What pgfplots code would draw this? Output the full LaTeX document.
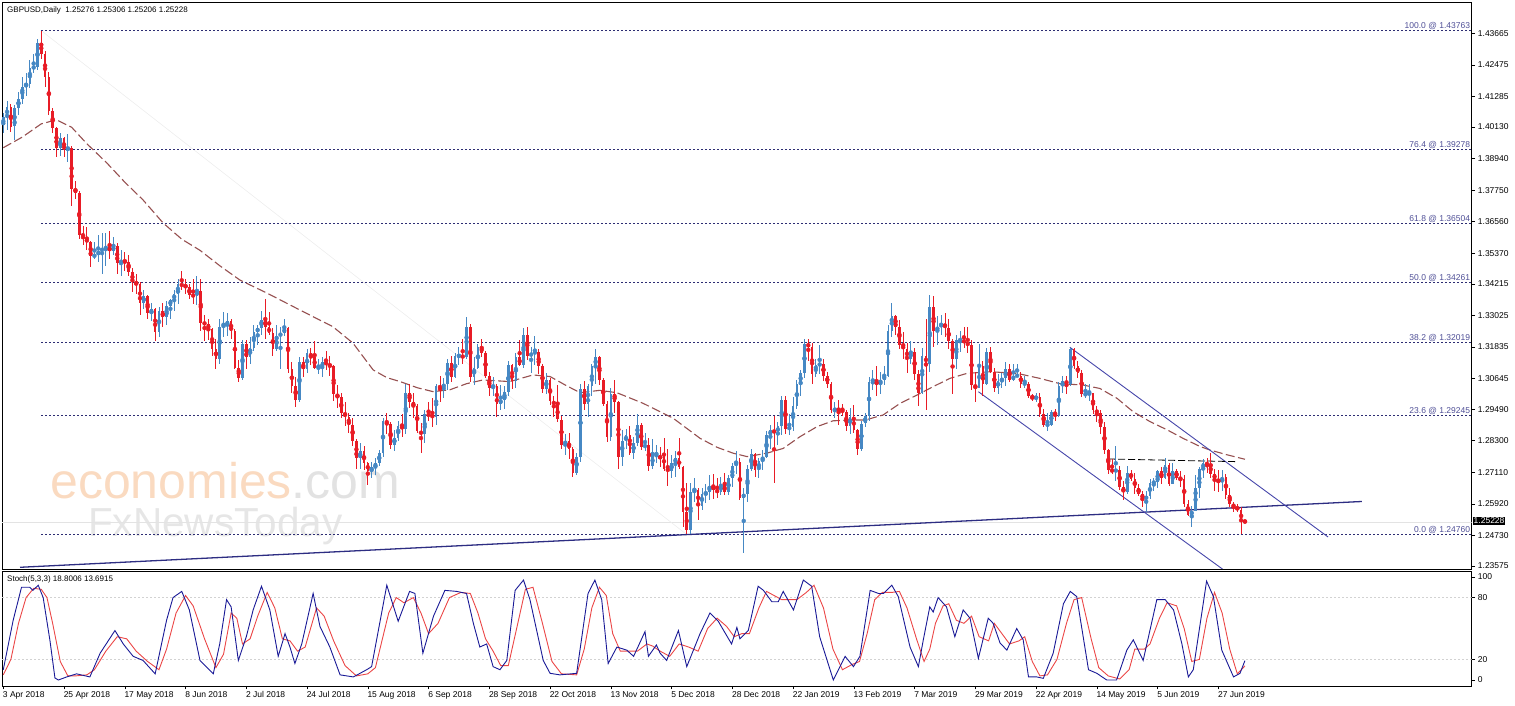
\documentclass[border=0pt]{standalone}
\usepackage{fontspec}
\setmainfont{Liberation Sans}
\usepackage{pgfplots}
\usepackage{pgfplotstable}
\pgfplotsset{compat=1.18}
\definecolor{upc}{RGB}{70,136,196}
\definecolor{dnc}{RGB}{232,28,38}
\definecolor{fibl}{RGB}{45,45,115}
\definecolor{fibt}{RGB}{78,78,150}
\definecolor{mac}{RGB}{150,80,80}
\definecolor{tline}{RGB}{45,45,130}
\definecolor{chan}{RGB}{70,70,170}
\definecolor{stk}{RGB}{25,25,150}
\definecolor{std}{RGB}{235,70,70}
\definecolor{wmo}{RGB}{250,218,192}
\definecolor{wmg}{RGB}{226,226,226}
\definecolor{wmf}{RGB}{230,230,230}
\pgfplotstableread{
i o h l c
0 1.4020 1.4065 1.3990 1.4050
1 1.4050 1.4110 1.4000 1.4090
2 1.4090 1.4100 1.3995 1.4015
3 1.4015 1.4095 1.3965 1.4085
4 1.4085 1.4145 1.4060 1.4120
5 1.4120 1.4200 1.4100 1.4165
6 1.4165 1.4215 1.4130 1.4175
7 1.4175 1.4265 1.4160 1.4235
8 1.4235 1.4290 1.4215 1.4240
9 1.4240 1.4345 1.4230 1.4330
10 1.4330 1.4377 1.4270 1.4290
11 1.4290 1.4300 1.4165 1.4200
12 1.4200 1.4220 1.4060 1.4075
13 1.4075 1.4085 1.3990 1.4010
14 1.4010 1.4015 1.3900 1.3935
15 1.3935 1.3990 1.3905 1.3970
16 1.3970 1.3975 1.3900 1.3925
17 1.3925 1.3985 1.3880 1.3935
18 1.3935 1.3940 1.3715 1.3780
19 1.3780 1.3810 1.3740 1.3765
20 1.3765 1.3770 1.3590 1.3605
21 1.3605 1.3640 1.3570 1.3590
22 1.3590 1.3635 1.3550 1.3580
23 1.3580 1.3585 1.3485 1.3525
24 1.3525 1.3580 1.3515 1.3530
25 1.3530 1.3605 1.3505 1.3545
26 1.3545 1.3615 1.3460 1.3555
27 1.3555 1.3615 1.3490 1.3560
28 1.3560 1.3620 1.3515 1.3545
29 1.3545 1.3600 1.3530 1.3565
30 1.3565 1.3575 1.3460 1.3500
31 1.3500 1.3550 1.3450 1.3510
32 1.3510 1.3540 1.3470 1.3505
33 1.3505 1.3530 1.3450 1.3465
34 1.3465 1.3480 1.3390 1.3430
35 1.3430 1.3460 1.3385 1.3420
36 1.3420 1.3430 1.3305 1.3350
37 1.3350 1.3400 1.3325 1.3375
38 1.3375 1.3380 1.3290 1.3310
39 1.3310 1.3350 1.3280 1.3325
40 1.3325 1.3330 1.3205 1.3240
41 1.3240 1.3335 1.3220 1.3320
42 1.3320 1.3350 1.3260 1.3295
43 1.3295 1.3355 1.3265 1.3340
44 1.3340 1.3365 1.3290 1.3360
45 1.3360 1.3400 1.3320 1.3385
46 1.3385 1.3440 1.3345 1.3420
47 1.3420 1.3470 1.3400 1.3415
48 1.3415 1.3440 1.3385 1.3410
49 1.3410 1.3420 1.3365 1.3380
50 1.3380 1.3440 1.3345 1.3375
51 1.3375 1.3450 1.3340 1.3395
52 1.3395 1.3440 1.3245 1.3275
53 1.3275 1.3305 1.3205 1.3270
54 1.3270 1.3290 1.3210 1.3250
55 1.3250 1.3255 1.3150 1.3175
56 1.3175 1.3215 1.3100 1.3140
57 1.3140 1.3290 1.3120 1.3260
58 1.3260 1.3315 1.3220 1.3265
59 1.3265 1.3310 1.3225 1.3280
60 1.3280 1.3290 1.3215 1.3245
61 1.3245 1.3250 1.3100 1.3105
62 1.3105 1.3135 1.3050 1.3065
63 1.3065 1.3210 1.3060 1.3195
64 1.3195 1.3210 1.3100 1.3145
65 1.3145 1.3220 1.3120 1.3180
66 1.3180 1.3265 1.3170 1.3240
67 1.3240 1.3265 1.3190 1.3255
68 1.3255 1.3320 1.3230 1.3285
69 1.3285 1.3363 1.3215 1.3260
70 1.3260 1.3315 1.3230 1.3235
71 1.3235 1.3255 1.3150 1.3175
72 1.3175 1.3265 1.3170 1.3225
73 1.3225 1.3260 1.3100 1.3235
74 1.3235 1.3290 1.3225 1.3255
75 1.3255 1.3260 1.3085 1.3100
76 1.3100 1.3125 1.3010 1.3035
77 1.3035 1.3070 1.2957 1.2985
78 1.2985 1.3145 1.2975 1.3125
79 1.3125 1.3145 1.3070 1.3100
80 1.3100 1.3175 1.3085 1.3160
81 1.3160 1.3180 1.3115 1.3145
82 1.3145 1.3205 1.3100 1.3105
83 1.3105 1.3140 1.3080 1.3105
84 1.3105 1.3145 1.3070 1.3125
85 1.3125 1.3170 1.3095 1.3120
86 1.3120 1.3150 1.3075 1.3110
87 1.3110 1.3115 1.2980 1.3005
88 1.3005 1.3040 1.2955 1.2995
89 1.2995 1.3010 1.2915 1.2935
90 1.2935 1.2975 1.2885 1.2920
91 1.2920 1.2935 1.2860 1.2890
92 1.2890 1.2915 1.2810 1.2830
93 1.2830 1.2835 1.2725 1.2765
94 1.2765 1.2820 1.2725 1.2790
95 1.2790 1.2810 1.2720 1.2745
96 1.2745 1.2750 1.2662 1.2715
97 1.2715 1.2750 1.2690 1.2730
98 1.2730 1.2765 1.2700 1.2745
99 1.2745 1.2795 1.2735 1.2785
100 1.2785 1.2915 1.2770 1.2905
101 1.2905 1.2935 1.2855 1.2895
102 1.2895 1.2900 1.2800 1.2815
103 1.2815 1.2870 1.2790 1.2840
104 1.2840 1.2905 1.2830 1.2885
105 1.2885 1.2930 1.2845 1.2875
106 1.2875 1.3045 1.2855 1.3010
107 1.3010 1.3045 1.2955 1.2975
108 1.2975 1.3010 1.2915 1.2960
109 1.2960 1.2970 1.2860 1.2865
110 1.2865 1.2895 1.2785 1.2855
111 1.2855 1.2945 1.2820 1.2930
112 1.2930 1.2975 1.2905 1.2925
113 1.2925 1.2990 1.2880 1.2920
114 1.2920 1.3045 1.2890 1.3035
115 1.3035 1.3075 1.2975 1.3030
116 1.3030 1.3065 1.2990 1.3045
117 1.3045 1.3140 1.3020 1.3125
118 1.3125 1.3150 1.3050 1.3070
119 1.3070 1.3160 1.3065 1.3150
120 1.3150 1.3185 1.3115 1.3150
121 1.3150 1.3215 1.3120 1.3145
122 1.3145 1.3298 1.3140 1.3260
123 1.3260 1.3270 1.3050 1.3070
124 1.3070 1.3145 1.3040 1.3105
125 1.3105 1.3195 1.3100 1.3185
126 1.3185 1.3215 1.3145 1.3160
127 1.3160 1.3170 1.3065 1.3075
128 1.3075 1.3090 1.3000 1.3030
129 1.3030 1.3070 1.3000 1.3035
130 1.3035 1.3045 1.2920 1.2970
131 1.2970 1.3040 1.2945 1.2985
132 1.2985 1.3035 1.2950 1.3015
133 1.3015 1.3130 1.3000 1.3115
134 1.3115 1.3120 1.3025 1.3055
135 1.3055 1.3160 1.3030 1.3145
136 1.3145 1.3210 1.3110 1.3115
137 1.3115 1.3255 1.3105 1.3230
138 1.3230 1.3260 1.3135 1.3150
139 1.3150 1.3185 1.3085 1.3160
140 1.3160 1.3225 1.3115 1.3165
141 1.3165 1.3175 1.3080 1.3110
142 1.3110 1.3120 1.3010 1.3025
143 1.3025 1.3085 1.3005 1.3060
144 1.3060 1.3065 1.2965 1.2980
145 1.2980 1.3000 1.2920 1.2965
146 1.2965 1.3040 1.2900 1.2910
147 1.2910 1.2925 1.2800 1.2815
148 1.2815 1.2855 1.2775 1.2830
149 1.2830 1.2860 1.2760 1.2800
150 1.2800 1.2805 1.2695 1.2710
151 1.2710 1.2785 1.2700 1.2770
152 1.2770 1.3045 1.2750 1.3025
153 1.3025 1.3055 1.2945 1.2970
154 1.2970 1.3045 1.2920 1.3035
155 1.3035 1.3120 1.3000 1.3110
156 1.3110 1.3175 1.3045 1.3145
157 1.3145 1.3150 1.3040 1.3060
158 1.3060 1.3065 1.2960 1.2970
159 1.2970 1.2980 1.2825 1.2845
160 1.2845 1.3030 1.2830 1.3005
161 1.3005 1.3060 1.2935 1.2975
162 1.2975 1.2980 1.2725 1.2770
163 1.2770 1.2870 1.2735 1.2830
164 1.2830 1.2875 1.2800 1.2850
165 1.2850 1.2885 1.2775 1.2785
166 1.2785 1.2845 1.2760 1.2820
167 1.2820 1.2930 1.2810 1.2890
168 1.2890 1.2895 1.2795 1.2805
169 1.2805 1.2860 1.2790 1.2815
170 1.2815 1.2840 1.2715 1.2735
171 1.2735 1.2835 1.2725 1.2775
172 1.2775 1.2815 1.2745 1.2775
173 1.2775 1.2805 1.2730 1.2760
174 1.2780 1.2840 1.2715 1.2725
175 1.2725 1.2800 1.2660 1.2715
176 1.2715 1.2775 1.2690 1.2745
177 1.2745 1.2790 1.2695 1.2765
178 1.2765 1.2840 1.2725 1.2730
179 1.2730 1.2735 1.2505 1.2560
180 1.2560 1.2670 1.2477 1.2495
181 1.2495 1.2670 1.2480 1.2635
182 1.2635 1.2690 1.2600 1.2645
183 1.2645 1.2650 1.2530 1.2585
184 1.2585 1.2650 1.2570 1.2630
185 1.2630 1.2665 1.2595 1.2635
186 1.2635 1.2700 1.2605 1.2660
187 1.2660 1.2705 1.2610 1.2645
188 1.2645 1.2690 1.2615 1.2635
189 1.2635 1.2695 1.2625 1.2665
190 1.2665 1.2710 1.2625 1.2635
191 1.2635 1.2700 1.2625 1.2690
192 1.2690 1.2745 1.2655 1.2735
193 1.2735 1.2790 1.2705 1.2750
194 1.2750 1.2765 1.2605 1.2615
195 1.2615 1.2650 1.2405 1.2630
196 1.2630 1.2740 1.2600 1.2725
197 1.2725 1.2800 1.2715 1.2780
198 1.2780 1.2785 1.2695 1.2720
199 1.2720 1.2765 1.2690 1.2755
200 1.2755 1.2795 1.2720 1.2770
201 1.2770 1.2865 1.2765 1.2850
202 1.2850 1.2890 1.2800 1.2870
203 1.2870 1.2925 1.2670 1.2860
204 1.2860 1.2900 1.2815 1.2885
205 1.2885 1.3000 1.2850 1.2985
206 1.2985 1.3000 1.2855 1.2875
207 1.2875 1.2930 1.2850 1.2880
208 1.2880 1.2995 1.2865 1.2960
209 1.2960 1.3060 1.2950 1.3045
210 1.3045 1.3095 1.3000 1.3085
211 1.3085 1.3215 1.3065 1.3195
212 1.3195 1.3215 1.3130 1.3185
213 1.3185 1.3200 1.3045 1.3080
214 1.3080 1.3140 1.3070 1.3115
215 1.3115 1.3190 1.3080 1.3120
216 1.3120 1.3140 1.3055 1.3075
217 1.3075 1.3090 1.3030 1.3045
218 1.3045 1.3050 1.2935 1.2945
219 1.2945 1.2975 1.2915 1.2950
220 1.2950 1.2985 1.2890 1.2945
221 1.2945 1.2970 1.2925 1.2940
222 1.2940 1.2945 1.2865 1.2885
223 1.2885 1.2955 1.2855 1.2920
224 1.2920 1.2965 1.2860 1.2870
225 1.2870 1.2875 1.2775 1.2800
226 1.2800 1.2905 1.2790 1.2895
227 1.2895 1.2935 1.2880 1.2925
228 1.2925 1.3070 1.2905 1.3050
229 1.3050 1.3095 1.3020 1.3050
230 1.3050 1.3110 1.3000 1.3045
231 1.3045 1.3090 1.3005 1.3060
232 1.3060 1.3110 1.3040 1.3075
233 1.3075 1.3265 1.3070 1.3245
234 1.3245 1.3350 1.3220 1.3300
235 1.3300 1.3305 1.3230 1.3260
236 1.3260 1.3285 1.3175 1.3190
237 1.3190 1.3240 1.3140 1.3175
238 1.3175 1.3200 1.3085 1.3140
239 1.3140 1.3205 1.3120 1.3165
240 1.3165 1.3180 1.3060 1.3080
241 1.3080 1.3095 1.2960 1.3010
242 1.3010 1.3180 1.3005 1.3150
243 1.3150 1.3290 1.2945 1.3120
244 1.3120 1.3381 1.3090 1.3335
245 1.3335 1.3375 1.3185 1.3245
246 1.3245 1.3300 1.3190 1.3260
247 1.3260 1.3305 1.3230 1.3270
248 1.3270 1.3310 1.3220 1.3255
249 1.3255 1.3290 1.3175 1.3205
250 1.3205 1.3215 1.3005 1.3140
251 1.3140 1.3230 1.3100 1.3210
252 1.3210 1.3245 1.3165 1.3210
253 1.3210 1.3260 1.3180 1.3200
254 1.3200 1.3260 1.3160 1.3190
255 1.3190 1.3210 1.3020 1.3040
256 1.3040 1.3090 1.2975 1.3030
257 1.3030 1.3195 1.3030 1.3110
258 1.3110 1.3130 1.3000 1.3045
259 1.3045 1.3180 1.3040 1.3165
260 1.3165 1.3185 1.3085 1.3090
261 1.3090 1.3105 1.3015 1.3030
262 1.3030 1.3080 1.3005 1.3055
263 1.3055 1.3085 1.3030 1.3065
264 1.3065 1.3125 1.3035 1.3100
265 1.3100 1.3120 1.3050 1.3060
266 1.3060 1.3120 1.3055 1.3075
267 1.3075 1.3120 1.3070 1.3075
268 1.3075 1.3090 1.3030 1.3045
269 1.3045 1.3075 1.3030 1.3045
270 1.3045 1.3050 1.2990 1.3000
271 1.3000 1.3005 1.2980 1.2990
272 1.2990 1.3010 1.2975 1.2995
273 1.2995 1.3010 1.2920 1.2930
274 1.2930 1.2950 1.2880 1.2890
275 1.2890 1.2935 1.2865 1.2890
276 1.2890 1.2945 1.2885 1.2940
277 1.2940 1.2950 1.2905 1.2925
278 1.2925 1.3050 1.2920 1.3035
279 1.3035 1.3075 1.3010 1.3055
280 1.3055 1.3075 1.3005 1.3045
281 1.3045 1.3180 1.3035 1.3175
282 1.3175 1.3180 1.3100 1.3110
283 1.3110 1.3130 1.3065 1.3085
284 1.3085 1.3095 1.2995 1.3005
285 1.3005 1.3045 1.2990 1.3005
286 1.3005 1.3045 1.2980 1.3010
287 1.3010 1.3010 1.2930 1.2945
288 1.2945 1.2960 1.2900 1.2935
289 1.2935 1.2945 1.2855 1.2880
290 1.2880 1.2900 1.2780 1.2795
291 1.2795 1.2800 1.2705 1.2720
292 1.2720 1.2760 1.2705 1.2715
293 1.2715 1.2810 1.2680 1.2720
294 1.2720 1.2735 1.2645 1.2655
295 1.2655 1.2680 1.2605 1.2635
296 1.2635 1.2735 1.2630 1.2710
297 1.2710 1.2720 1.2680 1.2685
298 1.2685 1.2710 1.2630 1.2650
299 1.2650 1.2665 1.2620 1.2630
300 1.2630 1.2640 1.2580 1.2610
301 1.2610 1.2640 1.2560 1.2620
302 1.2620 1.2685 1.2610 1.2670
303 1.2670 1.2690 1.2640 1.2675
304 1.2675 1.2720 1.2650 1.2715
305 1.2715 1.2730 1.2665 1.2690
306 1.2690 1.2765 1.2685 1.2740
307 1.2740 1.2745 1.2660 1.2665
308 1.2665 1.2745 1.2665 1.2715
309 1.2715 1.2725 1.2680 1.2690
310 1.2690 1.2715 1.2655 1.2685
311 1.2685 1.2700 1.2580 1.2590
312 1.2590 1.2605 1.2545 1.2550
313 1.2550 1.2585 1.2505 1.2565
314 1.2565 1.2700 1.2565 1.2650
315 1.2650 1.2730 1.2615 1.2725
316 1.2725 1.2760 1.2690 1.2745
317 1.2745 1.2765 1.2710 1.2740
318 1.2740 1.2785 1.2690 1.2705
319 1.2705 1.2725 1.2640 1.2685
320 1.2685 1.2720 1.2635 1.2675
321 1.2675 1.2720 1.2640 1.2695
322 1.2695 1.2705 1.2610 1.2625
323 1.2625 1.2650 1.2580 1.2590
324 1.2590 1.2600 1.2560 1.2580
325 1.2580 1.2590 1.2560 1.2570
326 1.2570 1.2580 1.2480 1.2523
327 1.25276 1.25306 1.25206 1.25228
}\candles
\begin{document}
\begin{tikzpicture}[x=1pt,y=1pt]
\path (0,0) rectangle (1515,706);
\node[anchor=base west,inner sep=0pt,text depth=0pt,font=\fontsize{50}{50}\selectfont] at (50,207) {\textcolor{wmo}{economies}\textcolor{wmg}{.com}};
\node[anchor=base west,inner sep=0pt,text height=29pt,font=\fontsize{40.5}{40.5}\selectfont,text=wmf] at (88,169.3) {FxNewsToday};
\begin{axis}[
  at={(2pt,137pt)}, anchor=south west, scale only axis,
  width=1469.7pt, height=567pt,
  xmin=-0.342, xmax=386.73, ymin=1.23462, ymax=1.44845,
  axis line style={black, line width=0.8pt},
  xtick=\empty,
  ytick={1.23575,1.24730,1.25920,1.27110,1.28300,1.29490,1.30645,1.31835,1.33025,1.34215,1.35370,1.36560,1.37750,1.38940,1.40130,1.41285,1.42475,1.43665},
  yticklabels={1.23575,1.24730,1.25920,1.27110,1.28300,1.29490,1.30645,1.31835,1.33025,1.34215,1.35370,1.36560,1.37750,1.38940,1.40130,1.41285,1.42475,1.43665},
  ytick pos=right, yticklabel pos=right,
  tick align=outside, major tick length=3.5pt,
  ytick style={black, line width=0.6pt},
  yticklabel style={font=\fontsize{8.5}{10}\selectfont, anchor=west, inner sep=0pt, xshift=2.5pt},
  scaled y ticks=false,
]
\addplot[gray!22, line width=1pt] coordinates {(-0.3,1.25228) (386.7,1.25228)};
\addplot[gray!14, line width=0.6pt] coordinates {(10,1.43763) (180,1.24760)};
\addplot[fibl, line width=0.8pt, dash pattern=on 2pt off 2pt] coordinates {(10,1.43763) (386.7,1.43763)};
\addplot[fibl, line width=0.8pt, dash pattern=on 2pt off 2pt] coordinates {(10,1.39278) (386.7,1.39278)};
\addplot[fibl, line width=0.8pt, dash pattern=on 2pt off 2pt] coordinates {(10,1.36504) (386.7,1.36504)};
\addplot[fibl, line width=0.8pt, dash pattern=on 2pt off 2pt] coordinates {(10,1.34261) (386.7,1.34261)};
\addplot[fibl, line width=0.8pt, dash pattern=on 2pt off 2pt] coordinates {(10,1.32019) (386.7,1.32019)};
\addplot[fibl, line width=0.8pt, dash pattern=on 2pt off 2pt] coordinates {(10,1.29245) (386.7,1.29245)};
\addplot[fibl, line width=0.8pt, dash pattern=on 2pt off 2pt] coordinates {(10,1.24760) (386.7,1.24760)};
\addplot[mac, line width=1.1pt, dash pattern=on 9pt off 3.5pt] coordinates {
(0,1.3935) (5,1.3975) (10,1.4025) (14,1.4040) (18,1.4012) (22,1.3950) (27.3,1.3877) (32,1.3805) (36.8,1.3738) (42.1,1.3651) (47,1.3590) (51.8,1.3548) (57,1.3490) (62.3,1.3436) (69.4,1.3387) (78.1,1.3323) (86.8,1.3260) (92.1,1.3198) (97.4,1.3097) (101,1.3068) (104.5,1.3053) (109,1.3030) (113.2,1.3015) (117.6,1.3022) (122,1.3045) (126.3,1.3059) (133.4,1.3053) (139.5,1.3078) (144,1.3072) (148,1.3040) (151.9,1.3011) (157.1,1.3020) (161.6,1.3011) (168.5,1.2971) (176.4,1.2915) (183.5,1.2839) (188,1.2805) (192.2,1.2783) (195.9,1.2770) (201.1,1.2783) (205.4,1.2801) (209.8,1.2845) (214.3,1.2883) (218.5,1.2905) (223,1.2908) (227,1.2908) (231.7,1.2927) (236.2,1.2971) (240.6,1.3002) (244.9,1.3034) (249.3,1.3065) (253.8,1.3084) (260,1.3090) (267,1.3084) (273,1.3065) (278.3,1.3045) (284.4,1.3040) (288.8,1.3027) (293.3,1.2990) (297.5,1.2940) (302,1.2902) (306.5,1.2871) (310.7,1.2839) (315.2,1.2808) (317.8,1.2795) (322,1.2778) (327,1.2760)};
\addplot[tline, line width=1.3pt] coordinates {(4.4,1.23526) (357.8,1.26008)};
\addplot[chan, line width=0.9pt] coordinates {(280.9,1.31823) (348.9,1.24669)};
\addplot[chan, line width=0.9pt] coordinates {(256.8,1.30149) (321.5,1.23417)};
\addplot[black, line width=0.8pt, dash pattern=on 7pt off 3pt] coordinates {(291,1.27611) (325.2,1.27509)};
\addplot[upc, only marks, mark=none, error bars/.cd, y dir=both, y explicit, error mark=none, error bar style={upc, line width=0.9pt}]
  table[x=i, y expr={\thisrow{c}>=\thisrow{o} ? (\thisrow{h}+\thisrow{l})/2 : nan}, y error expr={(\thisrow{h}-\thisrow{l})/2}] {\candles};
\addplot[dnc, only marks, mark=none, error bars/.cd, y dir=both, y explicit, error mark=none, error bar style={dnc, line width=0.9pt}]
  table[x=i, y expr={\thisrow{c}<\thisrow{o} ? (\thisrow{h}+\thisrow{l})/2 : nan}, y error expr={(\thisrow{h}-\thisrow{l})/2}] {\candles};
\addplot[upc, only marks, mark=none, error bars/.cd, y dir=both, y explicit, error mark=none, error bar style={upc, line width=2.6pt}]
  table[x=i, y expr={\thisrow{c}>=\thisrow{o} ? (\thisrow{o}+\thisrow{c})/2 : nan}, y error expr={max(abs(\thisrow{c}-\thisrow{o})/2,0.00012)}] {\candles};
\addplot[dnc, only marks, mark=none, error bars/.cd, y dir=both, y explicit, error mark=none, error bar style={dnc, line width=2.6pt}]
  table[x=i, y expr={\thisrow{c}<\thisrow{o} ? (\thisrow{o}+\thisrow{c})/2 : nan}, y error expr={max(abs(\thisrow{c}-\thisrow{o})/2,0.00012)}] {\candles};
\node[anchor=south east, inner sep=0.6pt, text=fibt, font=\fontsize{8.5}{9}\selectfont] at (axis cs:386.5,1.43763) {100.0 @ 1.43763};
\node[anchor=south east, inner sep=0.6pt, text=fibt, font=\fontsize{8.5}{9}\selectfont] at (axis cs:386.5,1.39278) {76.4 @ 1.39278};
\node[anchor=south east, inner sep=0.6pt, text=fibt, font=\fontsize{8.5}{9}\selectfont] at (axis cs:386.5,1.36504) {61.8 @ 1.36504};
\node[anchor=south east, inner sep=0.6pt, text=fibt, font=\fontsize{8.5}{9}\selectfont] at (axis cs:386.5,1.34261) {50.0 @ 1.34261};
\node[anchor=south east, inner sep=0.6pt, text=fibt, font=\fontsize{8.5}{9}\selectfont] at (axis cs:386.5,1.32019) {38.2 @ 1.32019};
\node[anchor=south east, inner sep=0.6pt, text=fibt, font=\fontsize{8.5}{9}\selectfont] at (axis cs:386.5,1.29245) {23.6 @ 1.29245};
\node[anchor=south east, inner sep=0.6pt, text=fibt, font=\fontsize{8.5}{9}\selectfont] at (axis cs:386.5,1.24760) {0.0 @ 1.24760};
\end{axis}
\begin{axis}[
  at={(2pt,20pt)}, anchor=south west, scale only axis,
  width=1469.7pt, height=115pt,
  xmin=-0.342, xmax=386.73, ymin=-5.8, ymax=105.8,
  axis line style={black, line width=0.8pt},
  ytick={0,20,80,100}, yticklabels={0,20,80,100},
  ytick pos=right, yticklabel pos=right,
  xtick={0,16,32,48,64,80,96,112,128,144,160,176,192,208,224,240,256,272,288,304,320},
  xticklabels={3 Apr 2018,25 Apr 2018,17 May 2018,8 Jun 2018,2 Jul 2018,24 Jul 2018,15 Aug 2018,6 Sep 2018,28 Sep 2018,22 Oct 2018,13 Nov 2018,5 Dec 2018,28 Dec 2018,22 Jan 2019,13 Feb 2019,7 Mar 2019,29 Mar 2019,22 Apr 2019,14 May 2019,5 Jun 2019,27 Jun 2019},
  xtick pos=bottom,
  tick align=outside, major tick length=3.5pt,
  tick style={black, line width=0.6pt},
  yticklabel style={font=\fontsize{8.5}{10}\selectfont, anchor=west, inner sep=0pt, xshift=2.5pt},
  xticklabel style={font=\fontsize{8.5}{10}\selectfont, anchor=north west, inner sep=0pt, xshift=-0.5pt, yshift=-2pt},
]
\addplot[gray!35, line width=0.7pt, dash pattern=on 2pt off 2pt] coordinates {(-0.3,80) (386.7,80)};
\addplot[gray!35, line width=0.7pt, dash pattern=on 2pt off 2pt] coordinates {(-0.3,20) (386.7,20)};
\addplot[std, line width=0.9pt] coordinates {
(0,5) (2,20) (4,55) (6,80) (8,89) (10,88) (11.5,80) (13,55) (15,18) (17,4) (19,4) (22,5) (24,10) (27,28) (30,42) (32.5,40) (35,28) (38,18) (41,10) (43,30) (45.5,65) (48,82) (50,72) (53,40) (56,12) (58,25) (60,65) (61.5,60) (63,35) (65,40) (67,62) (69.5,85) (71.5,70) (73.5,40) (75.5,38) (77.5,28) (79.5,32) (82.5,70) (84.5,62) (87,38) (90,14) (93,4) (96,6) (98,12) (101.5,65) (103.5,80) (105.5,75) (108,80) (110,65) (112,45) (114.5,55) (117.5,80) (120.5,85) (123,84) (125,65) (127,40) (129,28) (131,14) (133,14) (135.5,55) (137.5,88) (139.5,90) (142,55) (144.5,18) (147,6) (151,5) (153,30) (155,70) (157,90) (158.8,82) (160.5,45) (162.5,28) (165,28) (167,28) (169.5,35) (171,33) (173,28) (175.5,23) (178,35) (180.5,32) (183,28) (185.5,50) (188,60) (190.5,52) (192.5,42) (194.5,45) (196.5,45) (199,70) (201,86) (203,82) (205,78) (207,78) (209,78) (211.5,85) (213.5,92) (216,70) (218.5,30) (221,10) (223.5,15) (225.5,18) (227.5,45) (229.5,78) (231.5,85) (234,85) (236,86) (238,70) (240.5,40) (242.5,18) (244,30) (245.5,55) (247.5,72) (249,74) (251,58) (253,55) (255,62) (257,42) (259.5,38) (261,55) (263,45) (265,35) (267.5,38) (269,42) (271,18) (273,4) (275,5) (277.5,20) (280,55) (282,78) (284,80) (286.5,40) (288.5,12) (291,4) (294,1) (296.5,10) (298,30) (300.5,30) (302,35) (304.5,60) (306.5,75) (309,72) (311,50) (313,18) (315,20) (317,60) (319,85) (321,65) (323,30) (325,6) (327,13.7)};
\addplot[stk, line width=0.9pt] coordinates {
(0,10) (2.6,58) (4.8,90) (7,90) (7.8,87) (9.2,92) (10.5,80) (12.3,38) (13.6,2) (14.5,0) (16.7,3) (19.3,6) (22.8,3) (25.5,26) (29.4,48) (31.6,35) (34.2,23) (36.8,19) (40,6) (43,58) (44.7,80) (47,86) (49,68) (51.8,19) (55.3,6) (57,35) (58.8,78) (60,71) (61.9,19) (64,42) (65.8,68) (68,91) (70.2,68) (72.4,23) (74.2,45) (75.5,32) (76.8,16) (78.6,35) (81.6,84) (83.4,52) (86,32) (88.7,5) (92.2,3) (95.7,10) (97,13) (101,92) (104,57) (107,86) (108.4,84) (110.5,26) (113.3,62) (116.3,87) (119.4,86) (122,84) (123.8,55) (125.5,32) (127.3,35) (129,13) (130.8,10) (132.6,19) (134.8,87) (137,97) (138.7,78) (142.2,19) (144,6.5) (146.6,5) (151,6.5) (154,84) (155.8,97) (157.6,78) (159.3,16) (161.6,32) (164.2,29) (166,23) (169,47) (169.9,23) (172,34) (173,26) (174.7,19) (177.8,48) (180,13) (183.5,45) (186.1,65) (188.3,57) (191.8,35) (193.2,51) (194,40) (196.2,48) (198.8,91) (200.2,87) (202.4,76) (204.1,76) (205.4,86) (208.1,68) (210.7,97) (212.9,91) (215,42) (218.6,0) (221.7,23) (223.9,13) (225.6,23) (228.3,87) (230.5,84) (231.8,84) (234,92) (235.7,81) (238.8,32) (241,13) (242.3,39) (244,71) (244.9,66) (246.2,80) (248.4,71) (250.6,42) (252.8,68) (254.6,60) (256.8,21) (259.4,60) (260.7,55) (262.5,36) (264.3,29) (266.9,50) (268.6,39) (270,3) (272.2,3) (273.9,1.6) (276.5,26) (279.2,74) (281,86) (282.7,81) (285.8,10) (288,6.5) (290.6,0) (293.2,0) (295.9,29) (297.6,39) (300.2,19) (303.8,78) (306,78) (308.2,68) (310.4,35) (312.1,3) (313.4,10) (316.9,96) (318.7,81) (320.9,29) (324,3) (325.7,6.5) (327,18.8)};
\end{axis}
\node[anchor=west,inner sep=0pt,font=\fontsize{8}{9.6}\selectfont] at (7,696) {GBPUSD,Daily\ \ 1.25276 1.25306 1.25206 1.25228};
\node[anchor=west,inner sep=0pt,font=\fontsize{8}{9.6}\selectfont] at (7,127) {Stoch(5,3,3) 18.8006 13.6915};
\node[anchor=west,fill=black,text=white,inner sep=1pt,font=\fontsize{8.5}{9}\selectfont] at (1472.5,185) {1.25228};
\end{tikzpicture}
\end{document}
